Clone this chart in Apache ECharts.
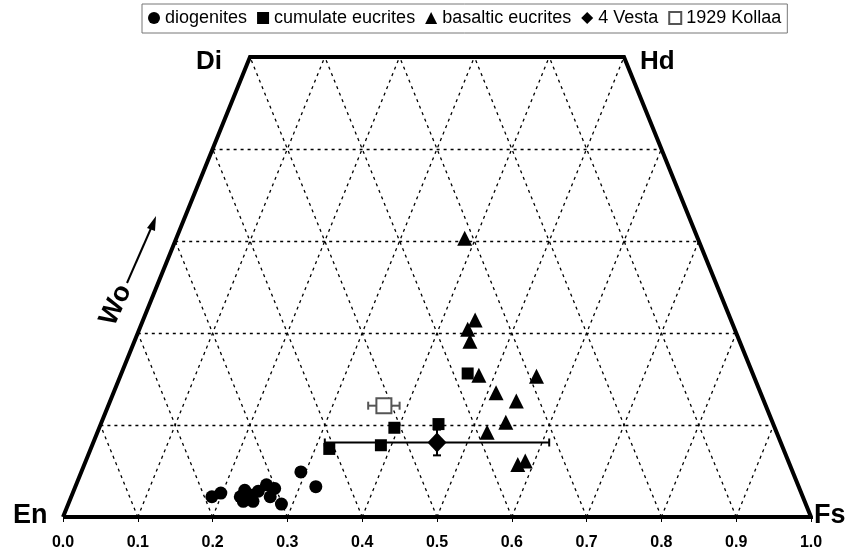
<!DOCTYPE html>
<html>
<head>
<meta charset="utf-8">
<title>Pyroxene quadrilateral</title>
<script src="https://cdn.jsdelivr.net/npm/echarts@6/dist/echarts.min.js"></script>
<style>
  html, body { margin: 0; padding: 0; background: #fff; }
  #chart { width: 847px; height: 553px; }
</style>
</head>
<body>
<div id="chart"></div>
<script>
// positions are [x along En-Fs axis, Wo fraction]
const xTicks = [0.0, 0.1, 0.2, 0.3, 0.4, 0.5, 0.6, 0.7, 0.8, 0.9, 1.0];
const woLevels = [0.1, 0.2, 0.3, 0.4];
const outline = [[0, 0], [0.25, 0.5], [0.75, 0.5], [1, 0], [0, 0]];

const diogenites = [
  [0.199, 0.022], [0.211, 0.026], [0.243, 0.029], [0.237, 0.022],
  [0.241, 0.017], [0.254, 0.017], [0.250, 0.024], [0.261, 0.028],
  [0.272, 0.035], [0.283, 0.031], [0.277, 0.022], [0.292, 0.014],
  [0.318, 0.049], [0.338, 0.033]
];
const cumulateEucrites = [
  [0.356, 0.074], [0.425, 0.078], [0.443, 0.097], [0.502, 0.101], [0.541, 0.156]
];
const basalticEucrites = [
  [0.537, 0.303], [0.551, 0.214], [0.541, 0.204], [0.544, 0.191],
  [0.556, 0.154], [0.633, 0.153], [0.579, 0.135], [0.606, 0.126],
  [0.592, 0.103], [0.567, 0.092], [0.618, 0.061], [0.608, 0.057]
];
// [x, wo, x error, wo error]
const vesta = [[0.500, 0.081, 0.150, 0.014]];
const kollaa = [[0.429, 0.121, 0.021, 0]];

const font = 'Arial, "Liberation Sans", sans-serif';

// dashed grid inside the quadrilateral
const gridSegs = [];
woLevels.forEach(function (w) {
  gridSegs.push({ coords: [[w / 2, w], [1 - w / 2, w]] });
});
xTicks.slice(1, -1).forEach(function (a) {
  // parallel to the En-Di edge
  if (a <= 0.5) gridSegs.push({ coords: [[a, 0], [a + 0.25, 0.5]] });
  else gridSegs.push({ coords: [[a, 0], [(1 + a) / 2, 1 - a]] });
  // parallel to the Fs-Hd edge
  if (a >= 0.5) gridSegs.push({ coords: [[a, 0], [a - 0.25, 0.5]] });
  else gridSegs.push({ coords: [[a, 0], [a / 2, a]] });
});

function errorBars(color, width) {
  return function (params, api) {
    const x = api.value(0), y = api.value(1), ex = api.value(2), ey = api.value(3);
    const cap = 4;
    const style = { stroke: color, lineWidth: width };
    const kids = [];
    if (ex > 0) {
      const l = api.coord([x - ex, y]), r = api.coord([x + ex, y]);
      kids.push({ type: 'line', shape: { x1: l[0], y1: l[1], x2: r[0], y2: r[1] }, style: style });
      kids.push({ type: 'line', shape: { x1: l[0], y1: l[1] - cap, x2: l[0], y2: l[1] + cap }, style: style });
      kids.push({ type: 'line', shape: { x1: r[0], y1: r[1] - cap, x2: r[0], y2: r[1] + cap }, style: style });
    }
    if (ey > 0) {
      const t = api.coord([x, y + ey]), b = api.coord([x, y - ey]);
      kids.push({ type: 'line', shape: { x1: t[0], y1: t[1], x2: b[0], y2: b[1] }, style: style });
      kids.push({ type: 'line', shape: { x1: t[0] - cap, y1: t[1], x2: t[0] + cap, y2: t[1] }, style: style });
      kids.push({ type: 'line', shape: { x1: b[0] - cap, y1: b[1], x2: b[0] + cap, y2: b[1] }, style: style });
    }
    return { type: 'group', children: kids };
  };
}

const chart = echarts.init(document.getElementById('chart'));

chart.setOption({
  animation: false,
  legend: {
    top: 4,
    left: 142,
    selectedMode: false,
    borderColor: '#777',
    borderWidth: 1,
    padding: [5, 6, 6, 6],
    itemGap: 10,
    itemWidth: 12,
    itemHeight: 12,
    itemStyle: {},
    textStyle: { fontFamily: font, fontSize: 18, color: '#000' },
    data: ['diogenites', 'cumulate eucrites', 'basaltic eucrites', '4 Vesta', '1929 Kollaa']
  },
  grid: { left: 63, right: 36, top: 57, bottom: 36 },
  xAxis: {
    type: 'value',
    min: 0,
    max: 1,
    interval: 0.1,
    axisLine: { show: false },
    axisTick: { show: true, length: 5, lineStyle: { color: '#000', width: 1 } },
    splitLine: { show: false },
    axisLabel: {
      margin: 18,
      color: '#000',
      fontFamily: font,
      fontWeight: 'bold',
      fontSize: 16,
      formatter: function (v) { return v.toFixed(1); }
    }
  },
  yAxis: { type: 'value', min: 0, max: 0.5, show: false },
  graphic: [
    { type: 'text', left: 13, top: 502, style: { text: 'En', font: 'bold 27px ' + font, fill: '#000' } },
    { type: 'text', left: 814, top: 502, style: { text: 'Fs', font: 'bold 27px ' + font, fill: '#000' } },
    { type: 'text', left: 196, top: 49, style: { text: 'Di', font: 'bold 26px ' + font, fill: '#000' } },
    { type: 'text', left: 640, top: 49, style: { text: 'Hd', font: 'bold 26px ' + font, fill: '#000' } },
    {
      type: 'text', x: 116, y: 305, rotation: 1.14,
      style: { text: 'Wo', font: 'bold 27px ' + font, fill: '#000', align: 'center', verticalAlign: 'middle' }
    },
    { type: 'line', shape: { x1: 127, y1: 283, x2: 152, y2: 226 }, style: { stroke: '#000', lineWidth: 2 } },
    { type: 'polygon', shape: { points: [[156, 216], [147, 228], [155, 231]] }, style: { fill: '#000' } }
  ],
  series: [
    {
      name: 'grid',
      type: 'lines',
      coordinateSystem: 'cartesian2d',
      silent: true,
      z: 1,
      lineStyle: { color: '#000', width: 1.3, type: [3, 4], opacity: 1 },
      data: gridSegs
    },
    {
      name: 'outline',
      type: 'line',
      data: outline,
      symbol: 'none',
      silent: true,
      z: 2,
      lineStyle: { color: '#000', width: 4, join: 'miter' }
    },
    {
      name: 'diogenites',
      type: 'scatter',
      symbol: 'circle',
      symbolSize: 13,
      z: 5,
      itemStyle: { color: '#000', opacity: 1 },
      data: diogenites
    },
    {
      name: 'cumulate eucrites',
      type: 'scatter',
      symbol: 'rect',
      symbolSize: 12,
      z: 5,
      itemStyle: { color: '#000', opacity: 1 },
      data: cumulateEucrites
    },
    {
      name: 'basaltic eucrites',
      type: 'scatter',
      symbol: 'triangle',
      symbolSize: 15,
      z: 5,
      itemStyle: { color: '#000', opacity: 1 },
      data: basalticEucrites
    },
    {
      name: 'vesta bars',
      type: 'custom',
      z: 4,
      silent: true,
      renderItem: errorBars('#000', 2),
      encode: { x: 0, y: 1 },
      data: vesta
    },
    {
      name: 'kollaa bars',
      type: 'custom',
      z: 4,
      silent: true,
      renderItem: errorBars('#555', 2),
      encode: { x: 0, y: 1 },
      data: kollaa
    },
    {
      name: '4 Vesta',
      type: 'scatter',
      symbol: 'diamond',
      symbolSize: [19, 20],
      z: 6,
      itemStyle: { color: '#000', opacity: 1 },
      data: vesta.map(function (d) { return [d[0], d[1]]; })
    },
    {
      name: '1929 Kollaa',
      type: 'scatter',
      symbol: 'rect',
      symbolSize: 15,
      z: 6,
      itemStyle: { color: '#fff', borderColor: '#555', borderWidth: 2, opacity: 1 },
      data: kollaa.map(function (d) { return [d[0], d[1]]; })
    }
  ]
});
</script>
</body>
</html>
